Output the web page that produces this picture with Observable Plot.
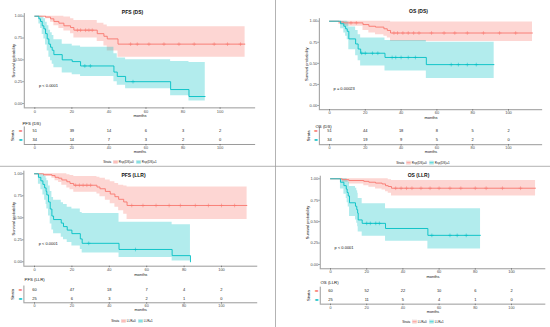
<!DOCTYPE html>
<html><head><meta charset="utf-8">
<script src="https://cdn.jsdelivr.net/npm/d3@7"></script>
<script src="https://cdn.jsdelivr.net/npm/@observablehq/plot@0.6"></script>
<style>
html,body{margin:0;padding:0;background:#fff;}
#root{position:relative;width:550px;height:327px;overflow:hidden;}
#root svg{position:absolute;overflow:visible;}
</style></head><body><div id="root"></div>
<script>
const FONT = "Liberation Sans, Arial, Helvetica, sans-serif";
const monthTicks = [0, 20, 40, 60, 80, 100];
const probTicks = [0, 0.25, 0.5, 0.75, 1];
const riskTimes = [0, 20, 40, 60, 80, 100];
const colors = ["#F8766D", "#00BFC4"];
const dsLabels = ["Rsp(DS)=0", "Rsp(DS)=1"];
const llrLabels = ["LLR=0", "LLR=1"];

// rows: [time (months), survival, lower CI, upper CI]
const pfsDS0 = [[0,1,1,1],[5.8,0.99,0.97,1],[8.5,0.97,0.93,1],[10.3,0.94,0.89,1],[13.0,0.92,0.86,1],[15.7,0.89,0.83,0.99],[19.3,0.87,0.80,0.97],[21.1,0.84,0.75,0.95],[33.7,0.80,0.71,0.92],[37.3,0.77,0.66,0.90],[39.1,0.74,0.60,0.88],[44.9,0.68,0.53,0.88],[113.5,0.68,0.53,0.88]];
const pfsDS1 = [[0,1,1,1],[2.2,0.97,0.91,1],[3.1,0.94,0.86,1],[4.0,0.89,0.79,0.99],[4.9,0.855,0.74,0.97],[5.8,0.80,0.67,0.93],[6.7,0.74,0.60,0.89],[7.6,0.68,0.53,0.84],[8.5,0.645,0.49,0.81],[9.4,0.61,0.45,0.78],[10.3,0.56,0.41,0.73],[14.8,0.50,0.35,0.68],[20.2,0.48,0.33,0.66],[24.7,0.43,0.31,0.645],[42.7,0.36,0.25,0.57],[44.5,0.31,0.21,0.52],[49.0,0.25,0.17,0.50],[73.3,0.16,0.09,0.48],[83.2,0.08,0.03,0.47],[92,0.08,0.03,0.47]];
const osDS0 = [[0,1,1,1],[5.2,0.99,0.96,1],[8.0,0.98,0.94,1],[18.7,0.96,0.89,1],[22.0,0.94,0.86,1],[25.7,0.93,0.84,1],[30.4,0.91,0.82,1],[32.3,0.89,0.80,1],[34.1,0.86,0.76,0.99],[113.4,0.86,0.76,0.99]];
const osDS1 = [[0,1,1,1],[6.2,0.97,0.91,1],[8.0,0.94,0.86,1],[9.0,0.91,0.82,1],[9.9,0.88,0.78,0.99],[10.8,0.79,0.66,0.93],[14.6,0.73,0.59,0.89],[16.0,0.67,0.53,0.84],[17.4,0.62,0.47,0.80],[31.0,0.57,0.41,0.77],[54.1,0.485,0.32,0.75],[92,0.485,0.32,0.75]];
const pfsLLR0 = [[0,1,1,1],[4.8,0.99,0.97,1],[9.3,0.98,0.95,1],[11.0,0.96,0.92,1],[12.9,0.95,0.90,1],[14.6,0.93,0.87,1],[17.3,0.91,0.84,0.99],[19.0,0.89,0.82,0.98],[21.0,0.87,0.79,0.97],[33.4,0.85,0.77,0.96],[35.0,0.83,0.74,0.95],[37.9,0.80,0.70,0.93],[40.5,0.77,0.66,0.91],[43.0,0.74,0.62,0.89],[45.0,0.71,0.58,0.87],[47.7,0.68,0.54,0.86],[49.5,0.64,0.48,0.85],[113.7,0.64,0.48,0.85]];
const pfsLLR1 = [[0,1,1,1],[2.1,0.96,0.88,1],[3.4,0.92,0.82,1],[4.5,0.88,0.76,0.99],[5.4,0.84,0.70,0.97],[6.2,0.80,0.65,0.95],[6.6,0.76,0.60,0.92],[7.5,0.68,0.52,0.86],[8.4,0.60,0.43,0.80],[9.3,0.52,0.36,0.73],[10.2,0.48,0.32,0.70],[14.3,0.44,0.28,0.67],[15.5,0.40,0.25,0.65],[17.5,0.36,0.22,0.62],[20.0,0.32,0.18,0.60],[24.5,0.26,0.14,0.56],[25.5,0.21,0.10,0.55],[45.2,0.14,0.05,0.45],[73.6,0.07,0.01,0.42],[83.4,0,0,0]];
const osLLR0 = [[0,1,1,1],[6.4,0.99,0.96,1],[10.1,0.98,0.94,1],[18.4,0.97,0.92,1],[21.2,0.96,0.90,1],[24.9,0.95,0.88,1],[28.5,0.94,0.87,1],[30.4,0.92,0.85,1],[31.9,0.91,0.83,0.99],[33.7,0.89,0.80,0.98],[113.3,0.89,0.80,0.98]];
const osLLR1 = [[0,1,1,1],[5.5,0.96,0.88,1],[7.4,0.92,0.82,1],[8.7,0.88,0.77,1],[9.2,0.84,0.72,0.98],[9.8,0.80,0.67,0.96],[10.5,0.72,0.56,0.91],[13.8,0.68,0.52,0.89],[14.5,0.64,0.48,0.86],[15.0,0.60,0.44,0.83],[15.3,0.52,0.38,0.77],[17.5,0.48,0.33,0.71],[30.4,0.42,0.27,0.65],[53.8,0.34,0.18,0.65],[82.9,0.34,0.18,0.65]];

// censoring times (months)
const pfsDSCens0 = [23,24.7,27.4,29.2,31,51.7,55.3,61.6,69.7,77.8,86,96.8,104,111];
const pfsDSCens1 = [27,30,53];
const osDSCens0 = [12,15,36,38,41,44,47,50,57,64,70,77,86,95,104];
const osDSCens1 = [18,20,24,27,35,37,40,44,48,68,72,77,82];
const pfsLLRCens0 = [22,24,26,28,30,52,58,65,72,78,86,93,100,107];
const pfsLLRCens1 = [29,54];
const osLLRCens0 = [36,39,42,45,50,55,60,66,72,80,86,95,105];
const osLLRCens1 = [20,22,25,27,56,66,70,75];

// number at risk at riskTimes
const pfsDSRisk0 = [51,39,14,6,3,2];
const pfsDSRisk1 = [34,14,7,3,2,0];
const osDSRisk0 = [51,44,18,8,5,2];
const osDSRisk1 = [34,19,9,5,2,0];
const pfsLLRRisk0 = [60,47,18,7,4,2];
const pfsLLRRisk1 = [25,6,3,2,1,0];
const osLLRRisk0 = [60,52,22,10,6,2];
const osLLRRisk1 = [25,11,5,4,1,0];

const panels = [
  {title:"PFS (DS)", pval:"p < 0.0001", groups:[pfsDS0,pfsDS1], cens:[pfsDSCens0,pfsDSCens1], risk:[pfsDSRisk0,pfsDSRisk1], labels:dsLabels,
   left:0, top:0, x0:34.3, ppm:1.853, xmax:113.5, y1:15.7, y0:103, titleX:132, titleY:12, monthsY:115, ylabX:13,
   rTitleX:22, rTitleY:122.5, rowA:130, rowB:139, rMonthsY:150.8, strataX:12, legX:130, legY:162},
  {title:"OS (DS)", pval:"p = 0.00023", groups:[osDS0,osDS1], cens:[osDSCens0,osDSCens1], risk:[osDSRisk0,osDSRisk1], labels:dsLabels,
   left:275, top:0, x0:329, ppm:1.79, xmax:113.4, y1:20.7, y0:105, titleX:418, titleY:11, monthsY:117, ylabX:306,
   rTitleX:315, rTitleY:126, rowA:130.7, rowB:139.7, rMonthsY:151.3, strataX:308, legX:423, legY:162.7},
  {title:"PFS (LLR)", pval:"p < 0.0001", groups:[pfsLLR0,pfsLLR1], cens:[pfsLLRCens0,pfsLLRCens1], risk:[pfsLLRRisk0,pfsLLRRisk1], labels:llrLabels,
   left:0, top:166, x0:34, ppm:1.87, xmax:113.7, y1:173.3, y0:261.3, titleX:133, titleY:175, monthsY:274, ylabX:13,
   rTitleX:24, rTitleY:279.3, rowA:289.7, rowB:298.3, rMonthsY:310, strataX:12, legX:132, legY:321},
  {title:"OS (LLR)", pval:"p < 0.0001", groups:[osLLR0,osLLR1], cens:[osLLRCens0,osLLRCens1], risk:[osLLRRisk0,osLLRRisk1], labels:llrLabels,
   left:275, top:166, x0:330, ppm:1.81, xmax:113.3, y1:178.3, y0:264, titleX:418, titleY:175, monthsY:276.7, ylabX:307,
   rTitleX:320, rTitleY:281.7, rowA:290.3, rowB:299, rMonthsY:310.5, strataX:308, legX:423, legY:321.7}
];

const root = document.getElementById("root");
const W = 275;

function survAt(g, t) {
  let s = 1;
  for (const r of g) { if (r[0] <= t) s = r[1]; }
  return s;
}

function xLayout(p) {
  const xd = [-0.05 * p.xmax, 1.05 * p.xmax];
  const mL = p.x0 + p.ppm * xd[0] - p.left;
  const mR = W - (p.x0 + p.ppm * xd[1] - p.left);
  return {xd, mL, mR};
}

function place(svg, left, top) {
  svg.style.position = "absolute";
  svg.style.left = left + "px";
  svg.style.top = top + "px";
  root.appendChild(svg);
}

function kmPlot(p) {
  const {xd, mL, mR} = xLayout(p);
  const ppu = p.y0 - p.y1;
  const yTop = 1.03, yBot = -0.05;
  const topPx = p.y1 - (yTop - 1) * ppu;
  const botPx = p.y0 - yBot * ppu;
  const T = p.top;
  const H = p.monthsY + 4 - T;
  const mT = topPx - T, mB = T + H - botPx;
  const frameCx = p.left + (mL + W - mR) / 2;
  const marks = [];
  p.groups.forEach((g, i) => {
    const rows = g.map(([t, s, lo, hi]) => ({t, s, lo, hi}));
    marks.push(Plot.areaY(rows, {x: "t", y1: "lo", y2: "hi", curve: "step-after", fill: colors[i], fillOpacity: 0.3}));
  });
  p.groups.forEach((g, i) => {
    const rows = g.map(([t, s, lo, hi]) => ({t, s, lo, hi}));
    marks.push(Plot.lineY(rows, {x: "t", y: "s", curve: "step-after", stroke: colors[i], strokeWidth: 0.9}));
    const cr = p.cens[i].map(t => ({t, s: survAt(g, t)}));
    marks.push(Plot.dot(cr, {x: "t", y: "s", symbol: "plus", r: 1.3, stroke: colors[i], strokeWidth: 0.5}));
  });
  marks.push(Plot.ruleY([yBot], {stroke: "#333", strokeWidth: 0.5}));
  marks.push(Plot.ruleX([xd[0]], {stroke: "#333", strokeWidth: 0.5}));
  marks.push(Plot.axisX(monthTicks, {tickSize: 1.5, tickPadding: 0.3, fontSize: 4, fill: "#4D4D4D", stroke: "#333", strokeWidth: 0.5, label: null}));
  marks.push(Plot.axisY(probTicks, {tickFormat: d3.format(".2f"), tickSize: 1.5, tickPadding: 0.5, fontSize: 4, fill: "#4D4D4D", stroke: "#333", strokeWidth: 0.5, label: null}));
  marks.push(Plot.text([p.pval], {x: p.xmax / 50, y: 0.2, text: d => d, textAnchor: "start", fontSize: 4, fill: "#111"}));
  marks.push(Plot.text([p.title], {frameAnchor: "top", text: d => d, dx: p.titleX - frameCx, dy: p.titleY - topPx, lineAnchor: "middle", fontSize: 5, fontWeight: "bold", fill: "#111"}));
  marks.push(Plot.text(["months"], {frameAnchor: "bottom", text: d => d, dy: p.monthsY - botPx, lineAnchor: "middle", fontSize: 4, fill: "#111"}));
  marks.push(Plot.text(["Survival probability"], {frameAnchor: "left", text: d => d, rotate: -90, dx: p.ylabX - (p.left + mL), textAnchor: "middle", lineAnchor: "middle", fontSize: 4, fill: "#111"}));
  const svg = Plot.plot({
    width: W, height: H, marginLeft: mL, marginRight: mR, marginTop: mT, marginBottom: mB,
    x: {domain: xd}, y: {domain: [yBot, yTop]},
    style: {fontFamily: FONT, background: "transparent", overflow: "visible"},
    marks
  });
  place(svg, p.left, T);
}

function riskPlot(p) {
  const {xd, mL, mR} = xLayout(p);
  const ppr = p.rowB - p.rowA;
  const yd = [-0.45, 1.5];
  const topPx = p.rowA + yd[0] * ppr;
  const botPx = p.rowA + yd[1] * ppr;
  const T = p.rTitleY - 4;
  const H = p.rMonthsY + 4 - T;
  const mT = topPx - T, mB = T + H - botPx;
  const rows = [];
  p.risk.forEach((arr, g) => arr.forEach((n, j) => rows.push({t: riskTimes[j], g, n})));
  const marks = [
    Plot.text(rows, {x: "t", y: "g", text: d => String(d.n), fontSize: 4, fill: "#222"}),
    Plot.ruleY([yd[1]], {stroke: "#333", strokeWidth: 0.5}),
    Plot.ruleX([xd[0]], {stroke: "#333", strokeWidth: 0.5}),
    Plot.axisX(monthTicks, {tickSize: 1.5, tickPadding: 0.2, fontSize: 3.8, fill: "#4D4D4D", stroke: "#333", strokeWidth: 0.5, label: null}),
    Plot.text([0, 1], {y: d => d, frameAnchor: "left", text: () => "\u25AC", fill: d => colors[d], dx: -3.6, textAnchor: "middle", fontSize: 4, fontFamily: "DejaVu Sans"}),
    Plot.text(["Strata"], {frameAnchor: "left", text: d => d, rotate: -90, dx: p.strataX - (p.left + mL), textAnchor: "middle", lineAnchor: "middle", fontSize: 4, fill: "#111"}),
    Plot.text([p.title], {frameAnchor: "top-left", text: d => d, dx: p.rTitleX - (p.left + mL), dy: p.rTitleY - topPx, textAnchor: "start", lineAnchor: "middle", fontSize: 4.3, fill: "#111"}),
    Plot.text(["months"], {frameAnchor: "bottom", text: d => d, dy: p.rMonthsY - botPx, lineAnchor: "middle", fontSize: 3.8, fill: "#111"})
  ];
  const svg = Plot.plot({
    width: W, height: H, marginLeft: mL, marginRight: mR, marginTop: mT, marginBottom: mB,
    x: {domain: xd}, y: {domain: yd, reverse: true, axis: null},
    style: {fontFamily: FONT, background: "transparent", overflow: "visible"},
    marks
  });
  place(svg, p.left, T);
}

// overlay: dividers and legends
const overlay = d3.create("svg").attr("width", 550).attr("height", 327)
  .style("position", "absolute").style("left", "0px").style("top", "0px").style("overflow", "visible");
root.appendChild(overlay.node());
overlay.append("line").attr("x1", 275.5).attr("x2", 275.5).attr("y1", 0).attr("y2", 327).attr("stroke", "#a0a0a0").attr("stroke-width", 0.8);
overlay.append("line").attr("x1", 0).attr("x2", 550).attr("y1", 166.3).attr("y2", 166.3).attr("stroke", "#a0a0a0").attr("stroke-width", 0.8);

function legend(cx, cy, labels) {
  const g = overlay.append("g").attr("font-size", 3).attr("font-family", FONT).attr("fill", "#111");
  let x = 0;
  const t0 = g.append("text").attr("x", x).attr("y", cy).attr("dominant-baseline", "central").text("Strata");
  x += t0.node().getComputedTextLength() + 2;
  labels.forEach((lab, i) => {
    g.append("rect").attr("x", x).attr("y", cy - 1.8).attr("width", 4.6).attr("height", 3.6)
      .attr("fill", colors[i]).attr("fill-opacity", 0.3).attr("stroke", "#ddd").attr("stroke-width", 0.2);
    g.append("line").attr("x1", x + 0.3).attr("x2", x + 4.3).attr("y1", cy).attr("y2", cy).attr("stroke", colors[i]).attr("stroke-width", 0.5);
    x += 5.6;
    const t = g.append("text").attr("x", x).attr("y", cy).attr("dominant-baseline", "central").text(lab);
    x += t.node().getComputedTextLength() + 2.5;
  });
  x -= 2.5;
  g.attr("transform", `translate(${cx - x / 2},0)`);
}

panels.forEach(p => {
  kmPlot(p);
  riskPlot(p);
  legend(p.legX, p.legY, p.labels);
});
root.appendChild(overlay.node());
</script>
</body></html>
